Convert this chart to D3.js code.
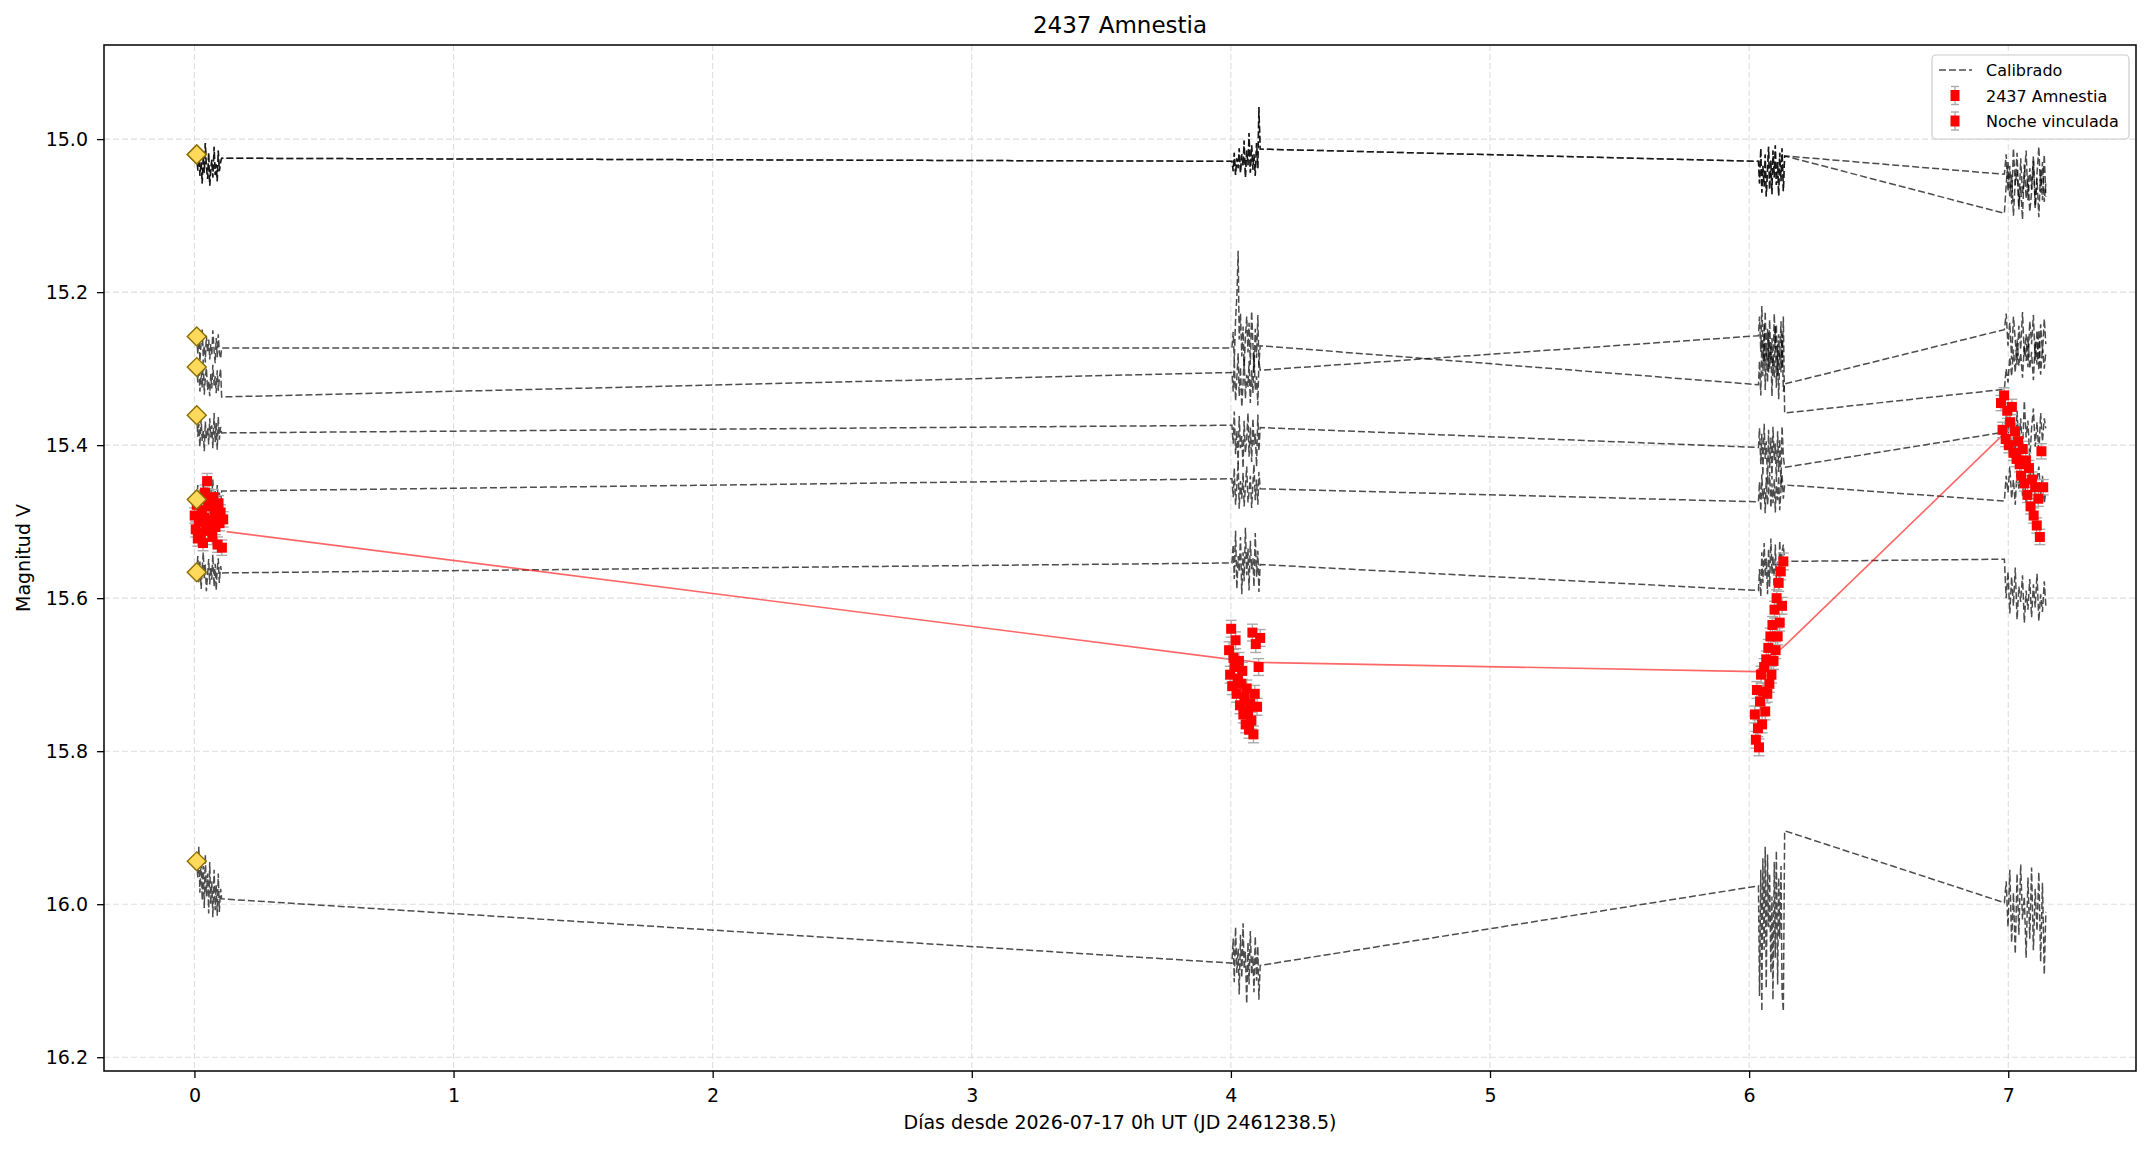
<!DOCTYPE html>
<html>
<head>
<meta charset="utf-8">
<script src="https://cdn.jsdelivr.net/npm/d3@7"></script>
<style>
  body { margin: 0; background: #fff; }
  svg { display: block; font-family: "DejaVu Sans", sans-serif; }
</style>
</head>
<body>
<div id="chart"></div>
<script>
// ---- data ----
const xTicks = [0, 1, 2, 3, 4, 5, 6, 7];
const yTicks = [15.0, 15.2, 15.4, 15.6, 15.8, 16.0, 16.2];
const xLim = [-0.349, 7.493];
const yLim = [14.877, 16.218];

// observation times of the comparison stars, 4 nights x 24 frames
const compTimes = [
  0.009, 0.013, 0.017, 0.021, 0.026, 0.030, 0.034, 0.038, 0.042, 0.046, 0.051, 0.055, 0.059, 0.063, 0.067, 0.071, 0.076, 0.080, 0.084, 0.088, 0.092, 0.096, 0.101, 0.105,
  4.004, 4.009, 4.013, 4.018, 4.023, 4.028, 4.032, 4.037, 4.042, 4.047, 4.051, 4.056, 4.061, 4.066, 4.070, 4.075, 4.080, 4.085, 4.089, 4.094, 4.099, 4.104, 4.108, 4.113,
  6.036, 6.040, 6.045, 6.049, 6.053, 6.058, 6.062, 6.066, 6.071, 6.075, 6.079, 6.084, 6.088, 6.092, 6.097, 6.101, 6.105, 6.110, 6.114, 6.118, 6.123, 6.127, 6.132, 6.137,
  6.985, 6.992, 6.999, 7.006, 7.013, 7.020, 7.027, 7.034, 7.041, 7.048, 7.055, 7.062, 7.069, 7.076, 7.083, 7.090, 7.097, 7.104, 7.111, 7.118, 7.125, 7.132, 7.139, 7.145
];

const starA = [
  15.020, 15.041, 15.012, 15.048, 15.030, 15.058, 15.022, 15.044, 15.005, 15.036, 15.052, 15.018, 15.061, 15.040, 15.027, 15.050, 15.010, 15.047, 15.033, 15.055, 15.015, 15.042, 15.030, 15.025,
  15.029, 15.042, 15.018, 15.047, 15.025, 15.038, 15.012, 15.044, 15.020, 15.035, 15.002, 15.050, 15.015, 15.034, 14.992, 15.044, 15.008, 15.040, 15.020, 15.048, 15.005, 15.038, 14.958, 15.013,
  15.029, 15.058, 15.012, 15.070, 15.035, 15.062, 15.020, 15.075, 15.040, 15.010, 15.066, 15.028, 15.072, 15.015, 15.050, 15.008, 15.060, 15.030, 15.074, 15.018, 15.055, 15.012, 15.068, 15.022,
  15.046, 15.020, 15.068, 15.035, 15.085, 15.012, 15.060, 15.040, 15.092, 15.025, 15.072, 15.050, 15.015, 15.080, 15.038, 15.065, 15.022, 15.088, 15.045, 15.010, 15.070, 15.030, 15.082, 15.058
];
const starB = [
  15.020, 15.041, 15.012, 15.048, 15.030, 15.058, 15.022, 15.044, 15.005, 15.036, 15.052, 15.018, 15.061, 15.040, 15.027, 15.050, 15.010, 15.047, 15.033, 15.055, 15.015, 15.042, 15.030, 15.025,
  15.029, 15.042, 15.018, 15.047, 15.025, 15.038, 15.012, 15.044, 15.020, 15.035, 15.002, 15.050, 15.015, 15.034, 14.992, 15.044, 15.008, 15.040, 15.020, 15.048, 15.005, 15.038, 14.958, 15.013,
  15.029, 15.058, 15.012, 15.070, 15.035, 15.062, 15.020, 15.075, 15.040, 15.010, 15.066, 15.028, 15.072, 15.015, 15.050, 15.008, 15.060, 15.030, 15.074, 15.018, 15.055, 15.012, 15.068, 15.022,
  15.097, 15.060, 15.030, 15.075, 15.045, 15.100, 15.055, 15.018, 15.088, 15.062, 15.105, 15.033, 15.078, 15.048, 15.095, 15.070, 15.028, 15.090, 15.052, 15.102, 15.040, 15.080, 15.020, 15.075
];
const star2 = [
  15.258, 15.281, 15.252, 15.290, 15.266, 15.249, 15.284, 15.270, 15.292, 15.257, 15.279, 15.262, 15.288, 15.268, 15.283, 15.250, 15.276, 15.293, 15.260, 15.285, 15.255, 15.278, 15.287, 15.273,
  15.273, 15.252, 15.290, 15.236, 15.205, 15.146, 15.262, 15.228, 15.284, 15.245, 15.300, 15.258, 15.232, 15.279, 15.240, 15.295, 15.225, 15.268, 15.305, 15.248, 15.286, 15.230, 15.295, 15.270,
  15.321, 15.290, 15.335, 15.262, 15.310, 15.240, 15.328, 15.275, 15.318, 15.252, 15.300, 15.270, 15.336, 15.285, 15.312, 15.245, 15.325, 15.268, 15.340, 15.280, 15.305, 15.255, 15.330, 15.320,
  15.249, 15.228, 15.270, 15.240, 15.288, 15.232, 15.262, 15.295, 15.244, 15.275, 15.226, 15.283, 15.255, 15.298, 15.238, 15.268, 15.230, 15.290, 15.250, 15.302, 15.242, 15.280, 15.235, 15.268
];
const star3 = [
  15.298, 15.318, 15.293, 15.330, 15.305, 15.325, 15.288, 15.334, 15.312, 15.299, 15.328, 15.316, 15.336, 15.307, 15.326, 15.295, 15.322, 15.310, 15.332, 15.302, 15.329, 15.314, 15.300, 15.337,
  15.305, 15.330, 15.288, 15.342, 15.312, 15.280, 15.336, 15.298, 15.350, 15.318, 15.285, 15.339, 15.308, 15.324, 15.290, 15.345, 15.302, 15.332, 15.278, 15.328, 15.310, 15.348, 15.290, 15.302,
  15.257, 15.232, 15.278, 15.218, 15.265, 15.295, 15.225, 15.284, 15.248, 15.305, 15.236, 15.290, 15.260, 15.300, 15.228, 15.275, 15.242, 15.310, 15.255, 15.285, 15.238, 15.300, 15.232, 15.358,
  15.327, 15.300, 15.318, 15.285, 15.310, 15.275, 15.305, 15.262, 15.296, 15.280, 15.312, 15.270, 15.290, 15.258, 15.300, 15.278, 15.315, 15.265, 15.295, 15.250, 15.308, 15.272, 15.300, 15.278
];
const star4 = [
  15.361, 15.389, 15.372, 15.402, 15.366, 15.395, 15.380, 15.408, 15.369, 15.392, 15.377, 15.399, 15.365, 15.390, 15.374, 15.404, 15.358, 15.396, 15.371, 15.406, 15.363, 15.393, 15.376, 15.384,
  15.374, 15.398, 15.356, 15.412, 15.381, 15.425, 15.362, 15.404, 15.388, 15.430, 15.368, 15.410, 15.392, 15.358, 15.415, 15.377, 15.422, 15.365, 15.400, 15.385, 15.428, 15.360, 15.408, 15.377,
  15.403, 15.378, 15.425, 15.385, 15.440, 15.372, 15.418, 15.395, 15.452, 15.380, 15.430, 15.390, 15.445, 15.376, 15.420, 15.398, 15.448, 15.382, 15.435, 15.392, 15.455, 15.375, 15.415, 15.429,
  15.383, 15.360, 15.405, 15.348, 15.395, 15.372, 15.415, 15.355, 15.400, 15.365, 15.410, 15.342, 15.390, 15.368, 15.420, 15.378, 15.352, 15.402, 15.370, 15.412, 15.358, 15.395, 15.365, 15.378
];
const star5 = [
  15.471, 15.452, 15.480, 15.458, 15.487, 15.463, 15.447, 15.476, 15.455, 15.484, 15.466, 15.449, 15.478, 15.457, 15.470, 15.445, 15.482, 15.460, 15.488, 15.452, 15.475, 15.462, 15.480, 15.460,
  15.444, 15.468, 15.430, 15.478, 15.452, 15.422, 15.483, 15.447, 15.470, 15.436, 15.480, 15.455, 15.428, 15.475, 15.462, 15.440, 15.482, 15.450, 15.425, 15.472, 15.445, 15.478, 15.435, 15.457,
  15.474, 15.448, 15.486, 15.438, 15.470, 15.456, 15.489, 15.442, 15.478, 15.460, 15.435, 15.482, 15.450, 15.476, 15.444, 15.488, 15.452, 15.472, 15.440, 15.485, 15.458, 15.438, 15.470, 15.452,
  15.473, 15.440, 15.462, 15.428, 15.470, 15.445, 15.478, 15.432, 15.458, 15.425, 15.466, 15.438, 15.475, 15.450, 15.430, 15.460, 15.435, 15.472, 15.445, 15.428, 15.465, 15.440, 15.476, 15.460
];
const star6 = [
  15.566, 15.545, 15.579, 15.552, 15.588, 15.561, 15.540, 15.574, 15.556, 15.591, 15.568, 15.549, 15.582, 15.559, 15.576, 15.543, 15.585, 15.555, 15.590, 15.562, 15.548, 15.580, 15.558, 15.567,
  15.554, 15.530, 15.575, 15.512, 15.588, 15.545, 15.566, 15.520, 15.595, 15.540, 15.578, 15.508, 15.570, 15.535, 15.590, 15.525, 15.562, 15.548, 15.585, 15.515, 15.572, 15.538, 15.592, 15.556,
  15.590, 15.562, 15.598, 15.540, 15.580, 15.528, 15.572, 15.548, 15.595, 15.535, 15.585, 15.522, 15.568, 15.545, 15.592, 15.530, 15.575, 15.552, 15.588, 15.525, 15.565, 15.540, 15.530, 15.552,
  15.549, 15.600, 15.565, 15.620, 15.572, 15.610, 15.560, 15.628, 15.585, 15.605, 15.570, 15.632, 15.590, 15.615, 15.575, 15.625, 15.582, 15.612, 15.568, 15.630, 15.595, 15.618, 15.578, 15.610
];
const star7 = [
  15.944, 15.965, 15.925, 15.985, 15.940, 15.995, 15.950, 16.005, 15.935, 15.990, 15.960, 16.012, 15.945, 16.000, 15.970, 16.017, 15.955, 16.008, 15.975, 16.015, 15.960, 16.010, 15.980, 15.993,
  16.077, 16.045, 16.102, 16.030, 16.090, 16.058, 16.118, 16.040, 16.096, 16.025, 16.085, 16.062, 16.130, 16.050, 16.105, 16.035, 16.092, 16.068, 16.115, 16.042, 16.100, 16.055, 16.125, 16.080,
  15.976, 16.120, 15.955, 16.140, 15.940, 16.060, 15.925, 16.110, 15.935, 16.030, 15.960, 16.090, 15.990, 16.125, 15.945, 16.070, 15.930, 16.105, 15.965, 16.045, 15.950, 16.115, 16.140, 15.904,
  15.998, 15.970, 16.030, 15.955, 16.050, 15.985, 16.065, 15.960, 16.040, 15.948, 16.020, 15.990, 16.070, 15.965, 16.045, 15.952, 16.060, 15.980, 16.035, 15.958, 16.075, 15.972, 16.092, 16.010
];

// reference magnitudes of the comparison stars (yellow diamonds)
const refDay = 0.009;
const refMags = [15.020, 15.020, 15.258, 15.298, 15.361, 15.471, 15.566, 15.944];

// target 2437 Amnestia, 4 nights x 28 frames
const targetTimes = [
  0.001, 0.005, 0.009, 0.013, 0.017, 0.021, 0.025, 0.029, 0.033, 0.037, 0.041, 0.045, 0.049, 0.053, 0.057, 0.061, 0.065, 0.069, 0.073, 0.077, 0.081, 0.085, 0.089, 0.093, 0.097, 0.101, 0.106, 0.111,
  3.993, 3.997, 4.001, 4.005, 4.010, 4.014, 4.018, 4.022, 4.027, 4.031, 4.035, 4.040, 4.044, 4.048, 4.053, 4.057, 4.061, 4.066, 4.070, 4.074, 4.079, 4.083, 4.087, 4.092, 4.096, 4.101, 4.107, 4.113,
  6.022, 6.026, 6.030, 6.034, 6.038, 6.042, 6.046, 6.050, 6.054, 6.058, 6.062, 6.066, 6.070, 6.074, 6.078, 6.082, 6.086, 6.090, 6.094, 6.098, 6.102, 6.106, 6.110, 6.114, 6.118, 6.122, 6.127, 6.132,
  6.972, 6.978, 6.984, 6.990, 6.996, 7.002, 7.008, 7.014, 7.020, 7.026, 7.032, 7.038, 7.044, 7.050, 7.056, 7.062, 7.068, 7.074, 7.080, 7.086, 7.092, 7.098, 7.104, 7.110, 7.116, 7.122, 7.128, 7.135
];
const targetMags = [
  15.492, 15.510, 15.478, 15.522, 15.500, 15.470, 15.515, 15.485, 15.528, 15.495, 15.462, 15.505, 15.447, 15.480, 15.512, 15.474, 15.498, 15.520, 15.468, 15.490, 15.507, 15.483, 15.530, 15.476, 15.502, 15.488, 15.534, 15.497,
  15.668, 15.700, 15.640, 15.715, 15.678, 15.690, 15.655, 15.725, 15.705, 15.682, 15.740, 15.712, 15.695, 15.752, 15.730, 15.765, 15.718, 15.748, 15.772, 15.738, 15.760, 15.645, 15.778, 15.725, 15.660, 15.742, 15.690, 15.652,
  15.752, 15.785, 15.720, 15.770, 15.795, 15.735, 15.700, 15.765, 15.722, 15.690, 15.748, 15.680, 15.725, 15.665, 15.712, 15.650, 15.700, 15.635, 15.682, 15.615, 15.668, 15.600, 15.650, 15.580, 15.632, 15.565, 15.610, 15.552,
  15.345, 15.380, 15.335, 15.392, 15.355, 15.400, 15.370, 15.350, 15.410, 15.382, 15.418, 15.395, 15.425, 15.440, 15.405, 15.450, 15.420, 15.465, 15.430, 15.480, 15.445, 15.492, 15.455, 15.505, 15.470, 15.520, 15.408, 15.455
];
const targetErr = [0.010, 0.011, 0.011, 0.010]; // per night

// linked-night path of the target
const linkDays = [0.124, 4.000, 4.120, 6.025, 6.150, 6.990];
const linkMags = [15.513, 15.680, 15.684, 15.696, 15.658, 15.383];

const legendLabels = ["Calibrado", "2437 Amnestia", "Noche vinculada"];

// ---- layout ----
let width = 2153,
    height = 1151,
    margin = ({ top: 45, right: 17, bottom: 80, left: 104 });

const svg = d3.select("#chart")
  .append("svg")
  .attr("width", width)
  .attr("height", height)
  .attr("viewBox", [0, 0, width, height]);

let x = d3.scaleLinear()
  .domain(xLim)
  .range([margin.left, width - margin.right]);

let y = d3.scaleLinear()   // magnitudes: bright at top
  .domain(yLim)
  .range([margin.top, height - margin.bottom]);

svg.append("defs").append("clipPath").attr("id", "plotclip")
  .append("rect")
  .attr("x", margin.left).attr("y", margin.top)
  .attr("width", width - margin.left - margin.right)
  .attr("height", height - margin.top - margin.bottom);

// grid
svg.append("g")
  .selectAll("line")
  .data(xTicks)
  .join("line")
  .attr("x1", d => x(d)).attr("x2", d => x(d))
  .attr("y1", margin.top).attr("y2", height - margin.bottom)
  .attr("stroke", "#dedede").attr("stroke-width", 1.1).attr("stroke-dasharray", "6,3");

svg.append("g")
  .selectAll("line")
  .data(yTicks)
  .join("line")
  .attr("y1", d => y(d)).attr("y2", d => y(d))
  .attr("x1", margin.left).attr("x2", width - margin.right)
  .attr("stroke", "#dedede").attr("stroke-width", 1.1).attr("stroke-dasharray", "6,3");

const plot = svg.append("g").attr("clip-path", "url(#plotclip)");

// comparison stars, dashed lines through every frame
const compSeries = [starA, starB, star2, star3, star4, star5, star6, star7];
const line = d3.line()
  .x(d => x(d[0]))
  .y(d => y(d[1]));

plot.append("g")
  .selectAll("path")
  .data(compSeries)
  .join("path")
  .attr("d", s => line(s.map((m, i) => [compTimes[i], m])))
  .attr("fill", "none")
  .attr("stroke", "#000")
  .attr("stroke-opacity", 0.7)
  .attr("stroke-width", 1.5)
  .attr("stroke-dasharray", "7,3");

// linked-night line
plot.append("path")
  .attr("d", line(linkDays.map((d, i) => [d, linkMags[i]])))
  .attr("fill", "none")
  .attr("stroke", "red")
  .attr("stroke-opacity", 0.6)
  .attr("stroke-width", 1.6);

// target points
const target = targetTimes.map((t, i) => ({ t: t, m: targetMags[i], e: targetErr[Math.floor(i / 28)] }));

const bars = plot.append("g").attr("stroke", "#aaaaaa").attr("stroke-width", 1.4);
bars.selectAll("line.v")
  .data(target)
  .join("line")
  .attr("class", "v")
  .attr("x1", d => x(d.t)).attr("x2", d => x(d.t))
  .attr("y1", d => y(d.m - d.e)).attr("y2", d => y(d.m + d.e));
bars.selectAll("line.ct")
  .data(target)
  .join("line")
  .attr("class", "ct")
  .attr("x1", d => x(d.t) - 5.5).attr("x2", d => x(d.t) + 5.5)
  .attr("y1", d => y(d.m - d.e)).attr("y2", d => y(d.m - d.e));
bars.selectAll("line.cb")
  .data(target)
  .join("line")
  .attr("class", "cb")
  .attr("x1", d => x(d.t) - 5.5).attr("x2", d => x(d.t) + 5.5)
  .attr("y1", d => y(d.m + d.e)).attr("y2", d => y(d.m + d.e));

plot.append("g")
  .attr("fill", "red")
  .selectAll("rect")
  .data(target)
  .join("rect")
  .attr("x", d => x(d.t) - 5)
  .attr("y", d => y(d.m) - 5)
  .attr("width", 10)
  .attr("height", 10);

// reference diamonds
plot.append("g")
  .selectAll("path")
  .data(refMags)
  .join("path")
  .attr("d", d3.symbol(d3.symbolSquare, 180))
  .attr("transform", d => `translate(${x(refDay)},${y(d)}) rotate(45)`)
  .attr("fill", "#ffd95c")
  .attr("stroke", "#8b6d00")
  .attr("stroke-width", 1.4);

// axes
const xAxis = svg.append("g")
  .attr("transform", `translate(0,${height - margin.bottom})`)
  .call(d3.axisBottom(x).tickValues(xTicks).tickFormat(d3.format("d")).tickSize(7).tickPadding(11).tickSizeOuter(0));

const yAxis = svg.append("g")
  .attr("transform", `translate(${margin.left},0)`)
  .call(d3.axisLeft(y).tickValues(yTicks).tickFormat(d3.format(".1f")).tickSize(7).tickPadding(9).tickSizeOuter(0));

[xAxis, yAxis].forEach(g => {
  g.select(".domain").remove();
  g.selectAll(".tick line").attr("stroke", "#000").attr("stroke-width", 1.3);
  g.selectAll(".tick text")
    .attr("fill", "#000")
    .style("font-size", "19px")
    .style("font-family", "DejaVu Sans, sans-serif");
});

// frame
svg.append("rect")
  .attr("x", margin.left).attr("y", margin.top)
  .attr("width", width - margin.left - margin.right)
  .attr("height", height - margin.top - margin.bottom)
  .attr("fill", "none")
  .attr("stroke", "#000")
  .attr("stroke-width", 1.5);

// titles
svg.append("text")
  .attr("x", (margin.left + width - margin.right) / 2)
  .attr("y", 33)
  .attr("text-anchor", "middle")
  .style("font-size", "23px")
  .text("2437 Amnestia");

svg.append("text")
  .attr("x", (margin.left + width - margin.right) / 2)
  .attr("y", 1129)
  .attr("text-anchor", "middle")
  .style("font-size", "19px")
  .text("Días desde 2026-07-17 0h UT (JD 2461238.5)");

svg.append("text")
  .attr("transform", `translate(30,${(margin.top + height - margin.bottom) / 2}) rotate(-90)`)
  .attr("text-anchor", "middle")
  .style("font-size", "19px")
  .text("Magnitud V");

// legend
const legend = svg.append("g");
legend.append("rect")
  .attr("x", 1932).attr("y", 55)
  .attr("width", 197).attr("height", 84)
  .attr("rx", 4)
  .attr("fill", "#fff").attr("fill-opacity", 0.8)
  .attr("stroke", "#cccccc").attr("stroke-width", 1.2);

const rows = legend.selectAll("g.row")
  .data(legendLabels)
  .join("g")
  .attr("class", "row")
  .attr("transform", (d, i) => `translate(0,${70 + i * 25.5})`);

rows.append("text")
  .attr("x", 1986)
  .attr("y", 6)
  .style("font-size", "16px")
  .text(d => d);

rows.filter((d, i) => i === 0).append("line")
  .attr("x1", 1939).attr("x2", 1972)
  .attr("stroke", "#000").attr("stroke-opacity", 0.7)
  .attr("stroke-width", 1.4).attr("stroke-dasharray", "7,3");

const mk = rows.filter((d, i) => i > 0);
mk.append("line").attr("x1", 1955).attr("x2", 1955).attr("y1", -9).attr("y2", 9)
  .attr("stroke", "#aaaaaa").attr("stroke-width", 1.4);
mk.append("line").attr("x1", 1951).attr("x2", 1959).attr("y1", -9).attr("y2", -9)
  .attr("stroke", "#aaaaaa").attr("stroke-width", 1.4);
mk.append("line").attr("x1", 1951).attr("x2", 1959).attr("y1", 9).attr("y2", 9)
  .attr("stroke", "#aaaaaa").attr("stroke-width", 1.4);
mk.append("rect").attr("x", 1950.5).attr("y", -5.5).attr("width", 9).attr("height", 11)
  .attr("fill", "red");
</script>
</body>
</html>
